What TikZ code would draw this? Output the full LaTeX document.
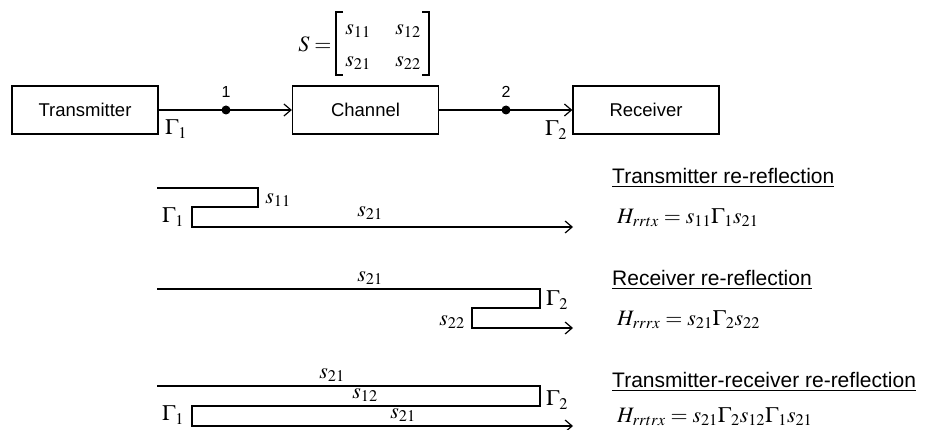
\documentclass[tikz,border=0pt]{standalone}
\usepackage{amsmath}
\usepackage{mathptmx}
\usepackage{fontspec}
\setmainfont{Liberation Sans}
\usetikzlibrary{arrows.meta}
\tikzset{
  blk/.style={draw, line width=1.3pt, minimum width=146pt, minimum height=48pt, inner sep=0pt, font=\fontsize{18.5}{22}\selectfont},
  wire/.style={line width=1.2pt},
  arr/.style={wire, -{Straight Barb[length=7pt,width=12pt,line width=1.2pt]}},
  dotp/.style={circle, fill, inner sep=0pt, minimum size=9pt},
  mth/.style={font=\fontsize{22}{26}\selectfont, inner sep=0pt},
  num/.style={font=\fontsize{16}{19}\selectfont, inner sep=0pt},
  head/.style={font=\fontsize{21}{25}\selectfont, inner sep=0pt, anchor=west},
  brk/.style={line width=1.3pt},
}
\begin{document}
\begin{tikzpicture}[x=1pt,y=-1pt]
\useasboundingbox (0,0) rectangle (926,430);
% top chain
\node[blk] (tx) at (85,110) {Transmitter};
\node[blk] (ch) at (365.5,110) {Channel};
\node[blk] (rx) at (646,110) {Receiver};
\draw[arr] (tx.east) -- (ch.west);
\draw[arr] (ch.east) -- (rx.west);
\node[dotp] (p1) at (226,110) {};
\node[dotp] (p2) at (506,110) {};
\node[num] (n1) at (226,92) {1};
\node[num] (n2) at (506,92) {2};
\node[mth] (g1) at (176,129) {$\Gamma_1$};
\node[mth] (g2) at (556,130) {$\Gamma_2$};
% scattering matrix
\node[mth] (seq) at (315,44) {$S=$};
\node[mth] (m11) at (358,31) {$s_{11}$};
\node[mth] (m12) at (408,31) {$s_{12}$};
\node[mth] (m21) at (358,63) {$s_{21}$};
\node[mth] (m22) at (408,63) {$s_{22}$};
\coordinate (bl1) at (343,12);
\coordinate (bl2) at (336,12);
\coordinate (bl3) at (336,75);
\coordinate (bl4) at (343,75);
\coordinate (br1) at (422,12);
\coordinate (br2) at (429,12);
\coordinate (br3) at (429,75);
\coordinate (br4) at (422,75);
\draw[brk] (bl1) -- (bl2) -- (bl3) -- (bl4);
\draw[brk] (br1) -- (br2) -- (br3) -- (br4);
% row 1
\coordinate (a0) at (157,188);
\coordinate (a1) at (258,188);
\coordinate (a2) at (258,207);
\coordinate (a3) at (192,207);
\coordinate (a4) at (192,227);
\coordinate (a5) at (573,227);
\draw[arr] (a0) -- (a1) -- (a2) -- (a3) -- (a4) -- (a5);
\node[mth] (l1a) at (278,200) {$s_{11}$};
\node[mth] (l1b) at (173,217) {$\Gamma_1$};
\node[mth] (l1c) at (370,213) {$s_{21}$};
\node[head] (h1) at (612,178) {\underline{Transmitter re-reflection}};
\node[mth, anchor=west] (f1) at (617,218) {$H_{rrtx}=s_{11}\Gamma_1 s_{21}$};
% row 2
\coordinate (b0) at (157,289);
\coordinate (b1) at (540,289);
\coordinate (b2) at (540,308);
\coordinate (b3) at (472,308);
\coordinate (b4) at (472,328);
\coordinate (b5) at (573,328);
\draw[arr] (b0) -- (b1) -- (b2) -- (b3) -- (b4) -- (b5);
\node[mth] (l2a) at (370,278) {$s_{21}$};
\node[mth] (l2b) at (557,300) {$\Gamma_2$};
\node[mth] (l2c) at (452,322) {$s_{22}$};
\node[head] (h2) at (612,280) {\underline{Receiver re-reflection}};
\node[mth, anchor=west] (f2) at (617,320) {$H_{rrrx}=s_{21}\Gamma_2 s_{22}$};
% row 3
\coordinate (c0) at (157,386);
\coordinate (c1) at (540,386);
\coordinate (c2) at (540,406);
\coordinate (c3) at (192,406);
\coordinate (c4) at (192,426);
\coordinate (c5) at (573,426);
\draw[arr] (c0) -- (c1) -- (c2) -- (c3) -- (c4) -- (c5);
\node[mth] (l3a) at (332,375) {$s_{21}$};
\node[mth] (l3b) at (365,395) {$s_{12}$};
\node[mth] (l3c) at (403,415) {$s_{21}$};
\node[mth] (l3d) at (557,400) {$\Gamma_2$};
\node[mth] (l3e) at (173,415) {$\Gamma_1$};
\node[head] (h3) at (612,382) {\underline{Transmitter-receiver re-reflection}};
\node[mth, anchor=west] (f3) at (617,417) {$H_{rrtrx}=s_{21}\Gamma_2 s_{12}\Gamma_1 s_{21}$};
\end{tikzpicture}
\end{document}
